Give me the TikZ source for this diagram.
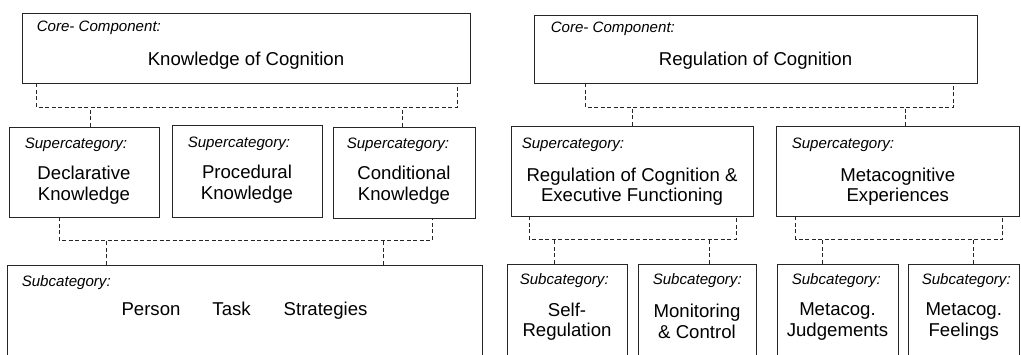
\documentclass[tikz,border=0pt]{standalone}
\usepackage{fontspec}
\setmainfont{Liberation Sans}
\tikzset{
  catbox/.style={rectangle, draw=black!85, line width=0.9pt, inner sep=0pt},
  head/.style={anchor=base west, inner sep=0pt, font=\fontsize{15.1}{17}\selectfont\itshape},
  main/.style={inner sep=0pt, align=center, font=\fontsize{18.6}{20.5}\selectfont},
  link/.style={draw=black!85, line width=0.8pt, dash pattern=on 4pt off 2.5pt},
}
\begin{document}
\begin{tikzpicture}[x=1pt, y=-1pt]
\clip (0,0) rectangle (1021,354);
% Core components
\node (knowledge) [catbox, minimum width=448pt, minimum height=70pt] at (246,48) {};
\node (knowledge-h) [head] at ([shift={(15,19)}]knowledge.north west) {Core- Component:};
\node (knowledge-t) [main] at ([shift={(0,48)}]knowledge.north) {Knowledge of Cognition};

\node (regulation) [catbox, minimum width=443pt, minimum height=68pt] at (755.5,49) {};
\node (regulation-h) [head] at ([shift={(17,18)}]regulation.north west) {Core- Component:};
\node (regulation-t) [main] at ([shift={(0,46)}]regulation.north) {Regulation of Cognition};

% Supercategories
\node (declarative) [catbox, minimum width=150pt, minimum height=90pt] at (84,172) {};
\node (declarative-h) [head] at ([shift={(16,22)}]declarative.north west) {Supercategory:};
\node (declarative-t) [main] at ([shift={(0,58.5)}]declarative.north) {Declarative\\Knowledge};

\node (procedural) [catbox, minimum width=150pt, minimum height=92pt] at (247,171) {};
\node (procedural-h) [head] at ([shift={(16,23)}]procedural.north west) {Supercategory:};
\node (procedural-t) [main] at ([shift={(0,59.5)}]procedural.north) {Procedural\\Knowledge};

\node (conditional) [catbox, minimum width=142pt, minimum height=91pt] at (404,172.5) {};
\node (conditional-h) [head] at ([shift={(14,22)}]conditional.north west) {Supercategory:};
\node (conditional-t) [main] at ([shift={(0,58.5)}]conditional.north) {Conditional\\Knowledge};

\node (executive) [catbox, minimum width=242pt, minimum height=90pt] at (632,171) {};
\node (executive-h) [head] at ([shift={(11,23)}]executive.north west) {Supercategory:};
\node (executive-t) [main] at ([shift={(0,61)}]executive.north) {Regulation of Cognition \&\\Executive Functioning};

\node (experiences) [catbox, minimum width=243.5pt, minimum height=90pt] at (897.75,171) {};
\node (experiences-h) [head] at ([shift={(16,23)}]experiences.north west) {Supercategory:};
\node (experiences-t) [main] at ([shift={(0,61)}]experiences.north) {Metacognitive\\Experiences};

% Subcategories
\node (person) [catbox, minimum width=475pt, minimum height=115pt] at (244.5,322.5) {};
\node (person-h) [head] at ([shift={(15,22)}]person.north west) {Subcategory:};
\node (person-t) [main] at ([shift={(0,46)}]person.north) {Person\hspace{32pt}Task\hspace{33pt}Strategies};

\node (selfreg) [catbox, minimum width=120pt, minimum height=116pt] at (567,322) {};
\node (selfreg-h) [head] at ([shift={(13,21)}]selfreg.north west) {Subcategory:};
\node (selfreg-t) [main] at ([shift={(0,58)}]selfreg.north) {Self-\\Regulation};

\node (monitoring) [catbox, minimum width=118pt, minimum height=116pt] at (697,322) {};
\node (monitoring-h) [head] at ([shift={(15,21)}]monitoring.north west) {Subcategory:};
\node (monitoring-t) [main] at ([shift={(0,58)}]monitoring.north) {Monitoring\\\& Control};

\node (judgements) [catbox, minimum width=121pt, minimum height=116pt] at (837.5,322) {};
\node (judgements-h) [head] at ([shift={(15,21)}]judgements.north west) {Subcategory:};
\node (judgements-t) [main] at ([shift={(0,58)}]judgements.north) {Metacog.\\Judgements};

\node (feelings) [catbox, minimum width=111.5pt, minimum height=116pt] at (963.75,322) {};
\node (feelings-h) [head] at ([shift={(14,21)}]feelings.north west) {Subcategory:};
\node (feelings-t) [main] at ([shift={(0,58)}]feelings.north) {Metacog.\\Feelings};

% Links
\draw[link] ([xshift=15pt]knowledge.south west) -- ++(0,24) coordinate (kbar) -| ([xshift=-13pt]knowledge.south east);
\draw[link] ([xshift=6pt]declarative.north) -- ([xshift=6pt]declarative.north |- kbar);
\draw[link] ([xshift=-2pt]conditional.north) -- ([xshift=-2pt]conditional.north |- kbar);

\draw[link] ([xshift=52pt]regulation.south west) -- ++(0,24) coordinate (rbar) -| ([xshift=-24pt]regulation.south east);
\draw[link] (executive.north) -- (executive.north |- rbar);
\draw[link] ([xshift=8pt]experiences.north) -- ([xshift=8pt]experiences.north |- rbar);

\draw[link] ([xshift=-25pt]declarative.south) -- ++(0,23) coordinate (dbar) -| ([xshift=28pt]conditional.south);
\draw[link] ([xshift=-138.5pt]person.north) -- ([xshift=-138.5pt]person.north |- dbar);
\draw[link] ([xshift=138.5pt]person.north) -- ([xshift=138.5pt]person.north |- dbar);

\draw[link] ([xshift=-103pt]executive.south) -- ++(0,23) coordinate (ebar) -| ([xshift=104pt]executive.south);
\draw[link] ([xshift=-13pt]selfreg.north) -- ([xshift=-13pt]selfreg.north |- ebar);
\draw[link] ([xshift=12pt]monitoring.north) -- ([xshift=12pt]monitoring.north |- ebar);

\draw[link] ([xshift=-102pt]experiences.south) -- ++(0,23) coordinate (xbar) -| ([xshift=105pt]experiences.south);
\draw[link] ([xshift=-15.5pt]judgements.north) -- ([xshift=-15.5pt]judgements.north |- xbar);
\draw[link] ([xshift=10pt]feelings.north) -- ([xshift=10pt]feelings.north |- xbar);

\end{tikzpicture}
\end{document}
